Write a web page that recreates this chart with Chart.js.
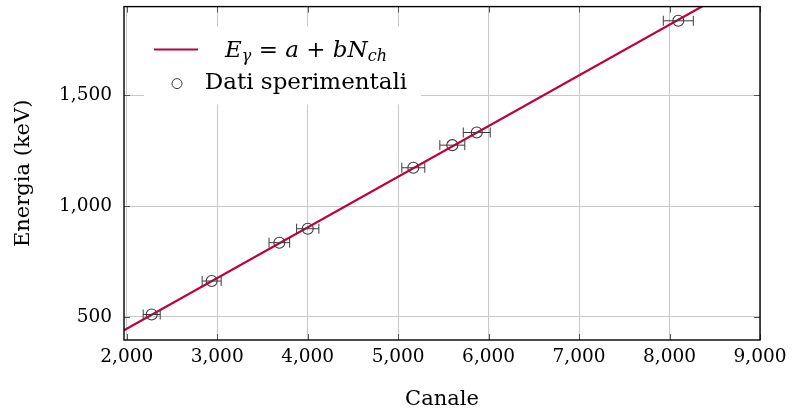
<!DOCTYPE html>
<html>
<head>
<meta charset="utf-8">
<script src="https://cdn.jsdelivr.net/npm/chart.js@4/dist/chart.umd.min.js"></script>
<style>
html, body { margin: 0; padding: 0; background: #fff; }
</style>
</head>
<body>
<canvas id="myChart" width="792" height="414"></canvas>
<script>
// calibration peaks: channel (x) vs energy in keV (y)
var channels   = [2276, 2939, 3687, 4001, 5168, 5599, 5869, 8097];
var energies   = [511, 662, 835, 898, 1173, 1275, 1332, 1836];
var channelErr = [94, 105, 114, 123, 127, 138, 149, 166];

// fitted line E = a + b*N, two ends
var fitX = [1970, 9000];
var fitY = [440, 2047];

var xTicks = [2000, 3000, 4000, 5000, 6000, 7000, 8000, 9000];
var yTicks = [500, 1000, 1500];

var red = '#bf0040';
var serif = 'DejaVu Serif';

function seg(ctx, x0, y0, x1, y1) {
    ctx.beginPath();
    ctx.moveTo(x0, y0);
    ctx.lineTo(x1, y1);
    ctx.stroke();
}

// draws a row of text pieces (for the math label), returns total width
function pieces(ctx, list, x, y, measureOnly) {
    var w = 0;
    list.forEach(function (p) {
        ctx.font = p.f;
        if (!measureOnly) ctx.fillText(p.t, x + w, y + (p.dy || 0));
        w += ctx.measureText(p.t).width;
    });
    return w;
}

var extras = {
    id: 'extras',
    afterDatasetsDraw: function (chart) {
        var ctx = chart.ctx, x = chart.scales.x, y = chart.scales.y;
        ctx.save();
        ctx.strokeStyle = '#3a3a3a';
        ctx.lineWidth = 1;
        channels.forEach(function (c, i) {
            var py = y.getPixelForValue(energies[i]);
            var x0 = x.getPixelForValue(c - channelErr[i]);
            var x1 = x.getPixelForValue(c + channelErr[i]);
            seg(ctx, x0, py, x1, py);
            seg(ctx, x0, py - 5, x0, py + 5);
            seg(ctx, x1, py - 5, x1, py + 5);
        });
        ctx.restore();
    },
    afterDraw: function (chart) {
        var ctx = chart.ctx, a = chart.chartArea, x = chart.scales.x, y = chart.scales.y;
        ctx.save();

        // legend box
        var lx = a.left + 20, ly = a.top + 20;
        ctx.fillStyle = '#fff';
        ctx.fillRect(lx, ly, 277, 78);
        ctx.strokeStyle = red;
        ctx.lineWidth = 2;
        seg(ctx, lx + 10, ly + 23, lx + 54, ly + 23);
        ctx.strokeStyle = '#3a3a3a';
        ctx.lineWidth = 1;
        ctx.beginPath();
        ctx.arc(lx + 33, ly + 57, 5, 0, Math.PI * 2);
        ctx.stroke();

        ctx.fillStyle = '#000';
        ctx.textBaseline = 'alphabetic';
        var it = 'italic 23px "' + serif + '"', up = '23px "' + serif + '"', sub = 'italic 16px "' + serif + '"';
        var math = [
            {t: 'E', f: it}, {t: 'γ', f: sub, dy: 4},
            {t: ' = ', f: up}, {t: 'a', f: it}, {t: ' + ', f: up},
            {t: 'bN', f: it}, {t: 'ch', f: sub, dy: 4}
        ];
        var cx = lx + 162;
        var mw = pieces(ctx, math, 0, 0, true);
        pieces(ctx, math, cx - mw / 2, ly + 30, false);
        ctx.font = up;
        ctx.textAlign = 'center';
        ctx.fillText('Dati sperimentali', cx, ly + 62);
        ctx.textAlign = 'left';

        // inner tick marks on all four sides
        ctx.strokeStyle = '#555';
        ctx.lineWidth = 1;
        xTicks.forEach(function (v) {
            var px = Math.round(x.getPixelForValue(v)) + 0.5;
            seg(ctx, px, a.bottom, px, a.bottom - 6);
            seg(ctx, px, a.top, px, a.top + 6);
        });
        yTicks.forEach(function (v) {
            var py = Math.round(y.getPixelForValue(v)) + 0.5;
            seg(ctx, a.left, py, a.left + 6, py);
            seg(ctx, a.right, py, a.right - 6, py);
        });

        // frame
        ctx.strokeStyle = '#000';
        ctx.lineWidth = 1.4;
        ctx.strokeRect(a.left, a.top, a.right - a.left, a.bottom - a.top);
        ctx.restore();
    }
};

var ctx = document.getElementById('myChart').getContext('2d');
var chart = new Chart(ctx, {
    type: 'scatter',
    data: {
        datasets: [{
            label: 'fit',
            data: fitX.map(function (v, i) { return {x: v, y: fitY[i]}; }),
            showLine: true,
            borderColor: red,
            borderWidth: 2.2,
            pointRadius: 0,
            fill: false
        }, {
            label: 'Dati sperimentali',
            data: channels.map(function (v, i) { return {x: v, y: energies[i]}; }),
            pointRadius: 5.5,
            pointHoverRadius: 5.5,
            borderColor: '#3a3a3a',
            backgroundColor: 'rgba(0,0,0,0)',
            borderWidth: 1.1
        }]
    },
    options: {
        responsive: false,
        animation: false,
        locale: 'en-US',
        layout: { padding: { top: 5, right: 32, left: 0, bottom: 0 } },
        plugins: { legend: { display: false }, tooltip: { enabled: false } },
        scales: {
            x: {
                type: 'linear',
                min: 1970,
                max: 9000,
                afterBuildTicks: function (s) { s.ticks = xTicks.map(function (v) { return {value: v}; }); },
                afterFit: function (s) { s.height = 74; s.paddingLeft = 0; s.paddingRight = 0; },
                grid: { color: '#c8c8c8', drawTicks: false },
                border: { display: false },
                ticks: { padding: 6, color: '#000', maxRotation: 0, autoSkip: false,
                         font: { family: serif, size: 18.5 } },
                title: { display: true, text: 'Canale', color: '#000',
                         font: { family: serif, size: 21 }, padding: { top: 0, bottom: 2 } }
            },
            y: {
                type: 'linear',
                min: 396,
                max: 1900,
                afterBuildTicks: function (s) { s.ticks = yTicks.map(function (v) { return {value: v}; }); },
                afterFit: function (s) { s.width = 124; s.paddingTop = 0; s.paddingBottom = 0; },
                grid: { color: '#c8c8c8', drawTicks: false },
                border: { display: false },
                ticks: { padding: 12, color: '#000', font: { family: serif, size: 18.5 } },
                title: { display: true, text: 'Energia (keV)', color: '#000',
                         font: { family: serif, size: 21 }, padding: { top: 11, bottom: 0 } }
            }
        }
    },
    plugins: [extras]
});
</script>
</body>
</html>
